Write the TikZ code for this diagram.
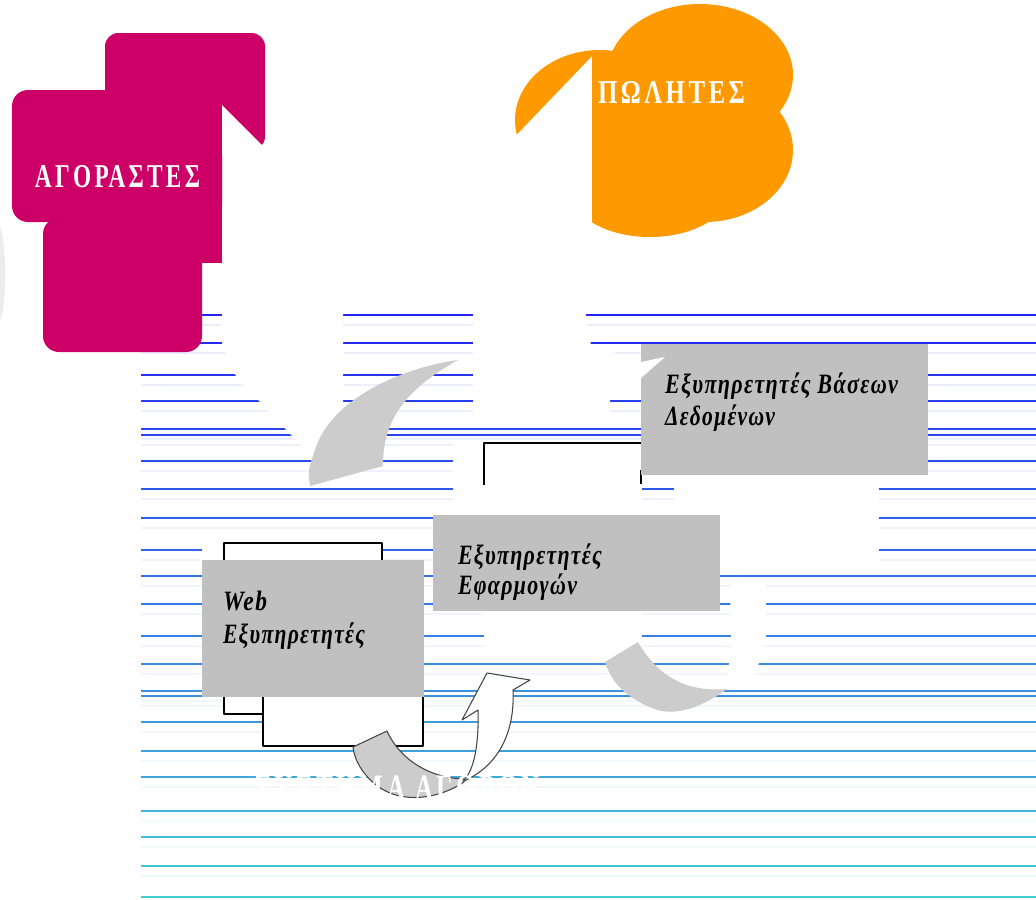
\documentclass[tikz,border=0pt]{standalone}
\usepackage{fontspec}
\setmainfont{Liberation Serif}
\usepackage{graphicx}
\newdimen\px \px=0.75pt
\newcommand\fitto[2]{\resizebox{#1\px}{\height}{#2}}
\definecolor{mag}{RGB}{204,0,102}
\definecolor{org}{RGB}{255,153,0}
\definecolor{boxg}{RGB}{192,192,192}
\definecolor{arrg}{RGB}{204,204,204}
\definecolor{lnA}{RGB}{35,35,245}
\definecolor{lnB}{RGB}{70,205,210}
\definecolor{edge}{RGB}{70,70,70}
\tikzset{
  srv/.style={anchor=base west, inner sep=0pt, outer sep=0pt,
    font=\fontsize{21pt}{23pt}\selectfont\bfseries\itshape\addfontfeature{LetterSpace=6}},
  ttl/.style={anchor=base west, inner sep=0pt, outer sep=0pt, text=white,
    font=\fontsize{25pt}{27pt}\selectfont\bfseries\addfontfeature{LetterSpace=14}},
  mask/.style={fill=white},
  sbox/.style={fill=boxg},
  obox/.style={fill=white, draw=black, line width=0.9pt},
  garrow/.style={fill=arrg},
  rib/.style={draw=edge, line width=0.8pt},
}
\begin{document}
\begin{tikzpicture}[x=0.75pt, y=-0.75pt, line join=round]
\useasboundingbox (0,0) rectangle (1036,900);
\fill[white] (0,0) rectangle (1036,900);

% faint sliver at the left edge
\fill[gray!15] (0,225) .. controls (7,250) and (7,300) .. (0,322) -- cycle;

% horizontal lines
\foreach \yy in {315,343,375,401,429,435,461,489,518,550,576,604,636,664,691,696,722,751,777,811,837,866,897}{
  \pgfmathtruncatemacro\pc{round((\yy-315)/5.82)}
  \draw[line width=1.7pt, color=lnB!\pc!lnA] (141,\yy) -- (1036,\yy);
  \draw[line width=1.4pt, color=lnB!\pc!lnA!8] (141,\yy+10) -- (1036,\yy+10);
}

% white masks (white arrows / extrusions)
\fill[mask] (222,105) -- (265,148) -- (343,230) -- (343,412) -- (383,418) -- (383,450)
  -- (305,450) -- (293,437) -- (260,402) -- (236,376) -- (222,345) -- cycle;
\fill[mask] (520,131) -- (592,56) -- (585,310) -- (591,345) -- (641,362) -- (641,392)
  -- (610,392) -- (610,415) -- (473,415) -- (473,250) -- cycle;
\fill[mask] (453,440) rectangle (642,512);
\fill[mask] (674,477) rectangle (879,566);
\fill[mask] (484,612) rectangle (642,650);
\fill[mask] (730,585) -- (766,585) -- (766,640) -- (755,676) -- (728,676) -- (731,640) -- cycle;
\fill[mask] (202,537) rectangle (224,560);

% magenta shape
\fill[mag, rounded corners=10] (105,33) rectangle (265,150);
\fill[mag, rounded corners=12] (12,90) rectangle (222,222);
\fill[mag, rounded corners=12] (43,218) rectangle (202,352);
\fill[mag] (105,140) rectangle (222,263);
\fill[white] (222,105) -- (272,155) -- (222,155) -- cycle;

% orange shape
\begin{scope}
  \clip (592,0) rectangle (900,300);
  \fill[org] (700,75) ellipse [x radius=93, y radius=71];
  \fill[org] (705,150) ellipse [x radius=88, y radius=72];
  \fill[org] (650,190) ellipse [x radius=80, y radius=47];
  \fill[org] (592,56) rectangle (720,200);
\end{scope}
\begin{scope}
  \clip (592,56) -- (500,152) -- (400,152) -- (400,0) -- (620,0) -- (620,56) -- cycle;
  \fill[org] (600,120) ellipse [x radius=85, y radius=70];
\end{scope}

% black outlined boxes
\draw[obox] (224,543) rectangle (382,714);
\draw[obox] (263,600) rectangle (423,746);
\draw[line width=0.9pt] (484,485) -- (484,443) -- (641,443);
\draw[line width=0.9pt] (641,470) -- (641,484);

% grey boxes
\fill[sbox] (641,344) rectangle (928,475);
\fill[white] (641,362) -- (665,357) -- (641,378) -- cycle;
\fill[sbox] (433,515) rectangle (720,611);
\fill[sbox] (202,560) rectangle (424,697);

% grey curved arrow (top)
\fill[garrow] (458,360) .. controls (400,368) and (330,400) .. (315,450)
  .. controls (308,470) .. (310,486) -- (383,466)
  .. controls (383,430) and (395,395) .. (458,360) -- cycle;

% grey crescent (right)
\fill[garrow] (605,662) -- (638,642) .. controls (660,680) and (690,692) .. (727,689)
  .. controls (705,705) and (680,716) .. (657,710)
  .. controls (630,700) and (612,685) .. (605,662) -- cycle;

% ribbon arrow (bottom)
\path[garrow, rib] (353,747) -- (387,731) .. controls (400,760) and (430,778) .. (464,779)
  -- (464,782) .. controls (445,795) and (415,803) .. (390,793)
  .. controls (370,785) and (355,765) .. (353,747) -- cycle;
\path[fill=white, rib] (464,780) .. controls (474,770) and (479,745) .. (478,710)
  -- (462,720) -- (487,673) -- (530,680) -- (513,690)
  .. controls (515,730) and (500,765) .. (464,781) -- cycle;

% texts
\node[ttl] (buy) at (35,187) {\fitto{165}{ΑΓΟΡΑΣΤΕΣ}};
\node[ttl] (sell) at (598,103) {\fitto{147}{ΠΩΛΗΤΕΣ}};
\node[srv] (db1) at (665,393) {\fitto{233}{Εξυπηρετητές Βάσεων}};
\node[srv] (db2) at (665,425) {\fitto{110}{Δεδομένων}};
\node[srv] (ap1) at (458,564) {\fitto{144}{Εξυπηρετητές}};
\node[srv] (ap2) at (458,594) {\fitto{119}{Εφαρμογών}};
\node[srv] (wb1) at (223,610) {\fitto{44}{Web}};
\node[srv] (wb2) at (223,643) {\fitto{142}{Εξυπηρετητές}};
\node[ttl, font=\fontsize{28pt}{30pt}\selectfont\bfseries\addfontfeature{LetterSpace=14}] (sys) at (255,800) {\fitto{285}{ΣΥΣΤΗΜΑ ΑΓΟΡΩΝ}};
\end{tikzpicture}
\end{document}
